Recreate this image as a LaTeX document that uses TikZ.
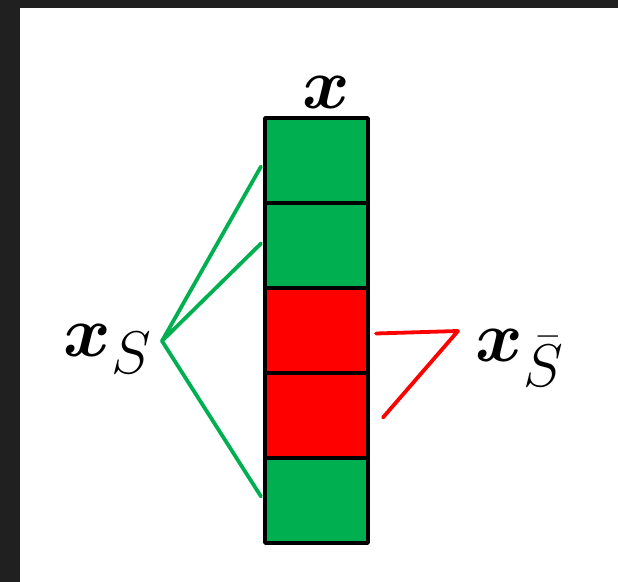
\documentclass[tikz,border=0pt]{standalone}
\usepackage{amsmath,bm}
\usetikzlibrary{positioning}
\definecolor{CellGreen}{HTML}{00B050}
\definecolor{CellRed}{HTML}{FF0000}
\definecolor{FrameGray}{HTML}{202020}
\newcommand{\biglbl}[1]{\scalebox{1.45}{\Huge$#1$}}

\begin{document}
\begin{tikzpicture}[x=0.5pt,y=-0.5pt,line cap=round,line join=round,
    cell/.style={draw=black,line width=1.7pt,minimum width=51.5pt,minimum height=42.5pt,inner sep=0pt,outer sep=0pt},
    lbl/.style={anchor=base,inner sep=0pt}]
  \useasboundingbox (0,0) rectangle (618,582);
  \fill[FrameGray] (0,0) rectangle (618,582);
  \fill[white] (20,8) rectangle (618,582);

  % the vector, cell by cell
  \foreach \i/\c in {1/CellGreen,2/CellGreen,3/CellRed,4/CellRed,5/CellGreen}{
    \node[cell,fill=\c] (c\i) at (316.5,{118+85*(\i-0.5)}) {};
  }

  \node[lbl] (xv) at (326,109) {\biglbl{\bm{x}}};
  \node[lbl] (xs) at (108,357) {\biglbl{\bm{x}_S}};
  \node[lbl] (xsb) at (520,362) {\biglbl{\bm{x}_{\bar{S}}}};

  \coordinate (vs) at (162,341);
  \coordinate (vr) at (458,331);

  \draw[CellGreen,line width=1.9pt] ([xshift=-2pt,yshift=-3pt]c1.west) -- (vs)
    -- ([xshift=-2pt,yshift=1pt]c2.west);
  \draw[CellGreen,line width=1.9pt] (vs) -- ([xshift=-2pt,yshift=2pt]c5.west);
  \draw[CellRed,line width=1.9pt] ([xshift=4pt,yshift=-1.5pt]c3.east) -- (vr)
    -- ([xshift=7.5pt,yshift=-1pt]c4.east);
\end{tikzpicture}
\end{document}
